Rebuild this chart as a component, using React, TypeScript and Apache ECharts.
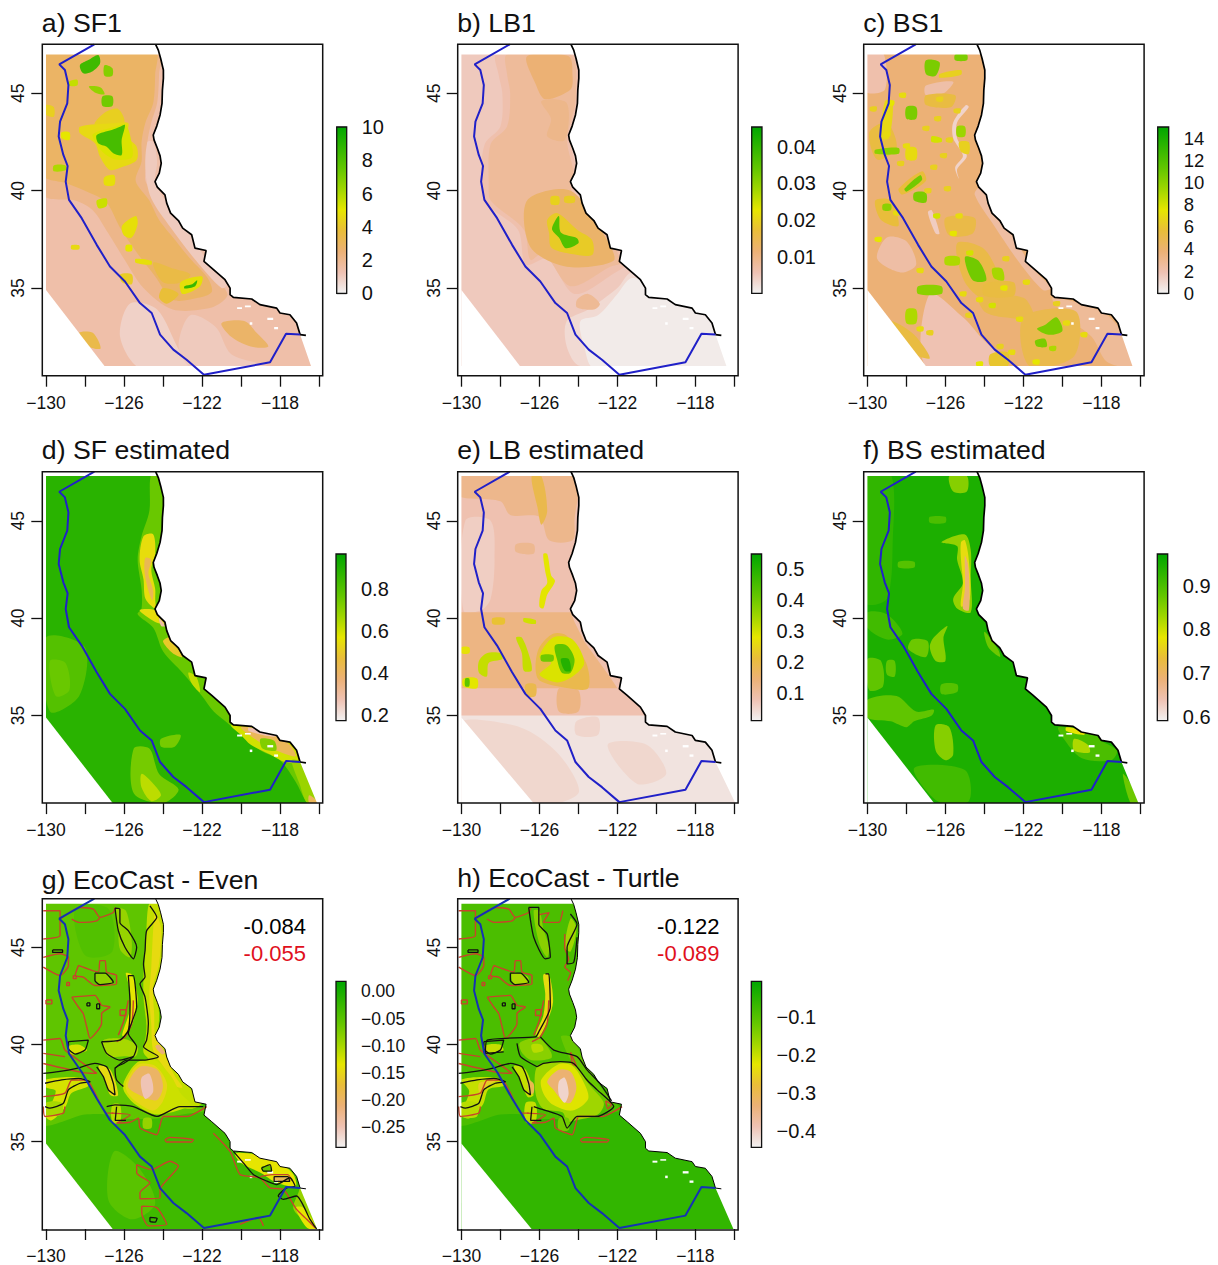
import React, { useEffect, useRef } from "react";
import * as echarts from "echarts";

type Region = [number, number[], boolean?];

const FONT = "Liberation Sans";
const INK = "#111111";
const XMIN = -130.19, XMAX = -115.81, YMIN = 30.5, YMAX = 47.52;
const xTicks = [-130, -128, -126, -124, -122, -120, -118, -116];
const xLabels = [-130, -126, -122, -118];
const yTicks = [35, 40, 45];

const coast = [-124.38,47.52,-124.24,47.22,-124.12,46.79,-123.98,46.2,-123.98,45.77,-124.03,45.17,-124.05,44.49,-124.15,43.89,-124.32,43.32,-124.5,42.86,-124.46,42.61,-124.29,42.18,-124.15,41.79,-124.09,41.41,-124.19,40.9,-124.41,40.47,-124.29,40.18,-123.9,39.79,-123.81,39.36,-123.61,38.85,-123.21,38.47,-122.99,38.08,-122.53,37.74,-122.36,37.05,-121.79,36.93,-121.9,36.37,-121.5,36.03,-120.82,35.43,-120.56,35,-120.56,34.66,-120.39,34.52,-119.45,34.44,-119.03,34.15,-118.17,33.97,-118,33.72,-117.49,33.63,-117.15,33.21,-116.97,32.61];
const coastTail = [-116.97,32.61,-116.67,32.57];
const eez = [-127.52,47.52,-129.32,46.49,-129.03,46.2,-128.85,45.43,-128.91,44.49,-129.28,43.55,-129.35,42.78,-129.11,41.84,-128.89,41.27,-128.99,40.47,-128.82,39.53,-128.17,38.59,-127.4,37.22,-126.72,36.11,-125.95,35.34,-125.18,34.23,-124.58,33.72,-124.15,32.61,-123.47,31.84,-122.79,31.32,-121.9,30.55,-118.51,31.19,-117.69,32.66,-116.97,32.61];
const holes = [-120.2,34.02,-119.95,34.02,-119.95,33.92,-120.2,33.92, -119.8,34.1,-119.5,34.1,-119.5,34.02,-119.8,34.02, -118.65,33.48,-118.35,33.48,-118.35,33.36,-118.65,33.36, -119.55,33.25,-119.42,33.25,-119.42,33.12,-119.55,33.12, -118.3,33,-118.1,33,-118.1,32.88,-118.3,32.88];

const regionsA: Region[] = [
  [1.45, [-131,29,-115,29,-115,48,-131,48], true],
  [0.85, [-125.7,34.2,-124.3,33.9,-123.1,31.7,-122.3,30.9,-125.2,30.9,-126.2,32.5]],
  [1.05, [-122.6,33.6,-121.3,33,-120.5,31.6,-118.7,31,-122.5,30.9,-123.2,32]],
  [2.1, [-130.1,47.1,-124.2,47.1,-124.2,46,-124.3,44.5,-124.6,43.5,-124.8,42.5,-124.8,41.5,-124.9,40.5,-124.2,39.5,-123.7,38.5,-122.9,37.5,-122.2,36.5,-121,35.2,-120.7,34.6,-121.5,34,-123.5,33.9,-125,35,-126,36.5,-126.8,37.8,-127.6,39,-128.5,39.5,-130.1,39.8]],
  [2.85, [-130.1,47.1,-124.4,47.1,-124.4,46,-124.5,44.5,-124.9,43.5,-125.1,42.5,-125.1,41.5,-125.4,40.5,-124.7,39.5,-124.2,38.5,-123.4,37.5,-122.6,36.5,-121.7,35.5,-121.5,34.8,-122.2,34.5,-123.5,34.4,-124.4,35.6,-125.4,36.9,-126.2,38.1,-126.9,39.4,-128,40,-129,40.4,-130.1,40.8]],
  [2.8, [-121,33.2,-119.8,33.3,-119.2,32.7,-118.6,32,-119.5,32,-120.5,32.5]],
  [3.4, [-128.3,32.7,-127.6,32.7,-127.2,31.9,-127.8,32]],
  [3.5, [-124.5,36.3,-123.5,36,-122.6,35.7,-123,35.3,-124,35.3]],
  [3.8, [-124,35,-123.2,34.7,-123.8,34.2,-124.2,34.5]],
  [4.3, [-127,44,-126.3,44.2,-126,43.5,-127.5,43.4]],
  [4.6, [-128.26,43.29,-126.55,43.46,-125.78,43.46,-125.86,42.78,-125.35,42.26,-125.35,41.58,-126.03,41.24,-126.72,41.07,-127.23,41.75,-127.49,42.44,-128.26,42.95]],
  [5.2, [-127.6,42.9,-126.4,43.3,-125.9,43.4,-125.6,42.4,-125.6,41.7,-126.4,41.6,-127,41.9,-127.4,42.4]],
  [8.2, [-127.4,42.86,-126.63,43.12,-126.2,43.29,-125.95,43.38,-126.12,42.61,-126.12,41.84,-126.55,41.93,-126.89,42.26,-127.32,42.44]],
  [8.4, [-128.26,46.45,-127.83,46.71,-127.32,46.97,-127.23,46.54,-127.66,46.11,-128.09,46.03]],
  [6.8, [-127,46.45,-126.6,46.3,-126.6,45.9,-127,45.9]],
  [5.6, [-128.85,45.6,-128.4,45.7,-128.4,45.4,-128.85,45.4]],
  [6.5, [-127.8,45.35,-127.2,45.3,-127,44.95,-127.5,45.05]],
  [7.2, [-127.1,44.85,-126.6,44.85,-126.6,44.35,-127.1,44.35]],
  [4.3, [-130,44.4,-129.6,44.3,-129.6,43.8,-130,43.9]],
  [5, [-129.2,43,-128.8,43,-128.8,42.6,-129.2,42.7]],
  [6, [-129.6,41.3,-129,41.3,-129,41.05,-129.6,41]],
  [5.5, [-127.4,39.5,-126.9,39.6,-126.9,39.2,-127.3,39.1]],
  [4.8, [-126.1,38.2,-125.4,38.7,-125.3,38.3,-125.6,37.6,-126,37.7]],
  [5, [-125.9,37.2,-125.6,37.2,-125.6,36.9,-125.9,36.9]],
  [4.6, [-128.7,37.2,-128.3,37.2,-128.3,37,-128.7,37]],
  [4.8, [-125.4,36.5,-124.6,36.4,-124.6,36.2,-125.4,36.3]],
  [4.2, [-126.2,35.7,-125.6,35.7,-125.6,35.2,-126.1,35.3]],
  [4.8, [-127,40.7,-126.5,40.8,-126.5,40.3,-127,40.3]],
  [4.8, [-123.1,35.3,-122,35.6,-122.1,35.1,-123,34.7]],
  [8.6, [-122.9,35.1,-122.5,35.2,-122.25,35.4,-122.35,35.1,-122.9,34.98]],
  [1.05, [-124.5,42.5,-124.3,41.5,-124.4,40.4,-123.5,39,-122.3,37.3,-121.5,36,-120.7,35.2,-121,35,-122.3,36.4,-123.6,38.1,-124.6,39.6,-124.9,41,-124.8,42.5]],
];

const regionsB: Region[] = [
  [0.0048, [-131,29,-115,29,-115,48,-131,48], true],
  [0.0028, [-124.6,33.3,-123.5,33.9,-122,35,-121.3,35.8,-120.3,35.5,-119,35,-116.5,33,-116,31,-123.9,31,-124.6,32]],
  [0.0008, [-123.9,33.3,-123,33.6,-122,34.7,-121.3,35.5,-120.3,35.3,-119,34.8,-116.6,33,-116.2,30.9,-123.2,30.9,-123.7,32]],
  [0.0062, [-128.2,47,-124.3,47,-124,44.66,-124.4,42.6,-124.1,40.9,-124.3,40.2,-123.5,38.85,-122.2,37.47,-121.6,36.2,-122.1,35.8,-124.2,34.7,-125.6,36.5,-126.7,36.2,-127.1,38,-128.8,39.4,-129,40.5,-128.8,42.4,-128,43.3,-127.9,45,-128.1,46]],
  [0.008, [-127.66,47,-124.41,47,-124.15,44.66,-124.58,42.6,-124.24,40.9,-124.41,40.2,-123.73,38.85,-122.36,37.47,-121.85,36.3,-122.36,36.1,-124.41,35.1,-125.78,36.8,-126.46,36.45,-126.8,38,-128.5,39.5,-128.6,40.4,-128.5,42.4,-127.66,43.3,-127.5,45,-127.66,46]],
  [0.0115, [-126.63,46.9,-124.5,46.9,-124.3,45.9,-124.4,45.2,-125.7,44.7,-126.2,45.5]],
  [0.0095, [-125.9,44.6,-124.6,44.5,-124.7,42.6,-125.6,42.8,-125.4,43.7]],
  [0.0125, [-126.63,39.5,-124.4,40,-122.53,37.47,-122.2,36.4,-124.6,36.1,-126.46,37.1]],
  [0.0085, [-124.07,34.4,-123.5,34.7,-122.9,34.2,-123.2,33.9,-124.07,34]],
  [0.019, [-125.6,38.5,-125.1,38.85,-124.07,38,-123.3,37.47,-123.3,36.7,-124.6,36.8,-125.4,37.1,-125.5,37.8]],
  [0.036, [-125.26,38.33,-125,38.7,-124.9,37.85,-124.07,37.56,-124,37.3,-124.65,37.05,-125,37.6,-125.35,38]],
  [0.02, [-125.4,39.7,-125,39.7,-125,39.3,-125.4,39.3]],
  [0.019, [-124.7,39.7,-124.2,39.7,-124.2,39.4,-124.7,39.4]],
];

const spotsC = [
  [-128.2,44.9,7],[-128.8,44.5,7.5],[-129,42.9,7],[-128.3,41.4,6.5],[-128,42.3,7],[-126.3,44.7,6.5],[-125.4,44.1,6.5],[-126.1,41.8,6.5],[-126.6,41.2,6.5],[-125.8,42.6,6.5],
  [-128.5,38.85,7],[-129.45,37.5,7.5],[-126.45,38.7,8],[-125.3,38.7,7],[-125.6,37.8,7.5],[-124.75,36.8,8],[-122.9,36.5,6.5],[-121.85,35.3,7],[-123,35,7.5],[-124.25,34.4,7],
  [-122.2,33.4,7],[-127.3,32.9,7],[-126.8,32.7,6.5],[-119.8,33.2,7],[-120.5,31.9,9],[-121.35,31.2,7.5],[-123.2,32,6.5],[-124.25,31.1,7.5],[-125.1,34.7,7],[-127.3,35.9,7],
  [-129.7,44.2,6.5],[-127,43.2,6.5],[-126.4,43.7,6.5],[-125.9,40.1,6.5],[-126.9,40,6.5],[-123.6,34.1,8],[-124.8,33.6,6.5],[-122.6,31.7,7],[-118.9,32.6,7],[-120.3,34.2,6.5],
];
const regionsC: Region[] = [
  [3.75, [-131,29,-115,29,-115,48,-131,48], true],
  [2.1, [-130.1,47.1,-129.2,47.1,-129.1,45.2,-130.1,45.1]],
  [2.2, [-127,45.4,-125.6,45.6,-126.1,45,-127,44.9]],
  [1.2, [-124.95,44.4,-124.8,44.3,-125.4,43.5,-125.4,42.7,-124.9,41.8,-125.4,41.1,-125.3,40.6,-125.5,41.2,-125.1,41.8,-125.6,42.7,-125.6,43.5]],
  [1.9, [-126.8,34.7,-125.1,33.5,-124.2,32.5,-122.9,31,-127,31]],
  [2.3, [-129,37.6,-128,37.4,-127.5,36.2,-128.3,35.8,-129.5,36.5]],
  [1.5, [-126.7,39,-126.3,37.8,-126.5,37.8,-126.9,38.9]],
  [2.7, [-120.5,34.5,-118,33.8,-117,32.8,-116.4,31,-117.7,31.2,-118.5,32.5,-119.8,33.5]],
  [2.4, [-124.2,40.2,-123.5,39,-122.5,37.6,-121.5,36,-120.6,35,-121,34.9,-122.2,36.3,-123.5,38.2,-124.5,39.8]],
  [5.4, [-129.9,43,-129,43.5,-128.5,42.2,-129.5,41.6]],
  [5.6, [-128.4,40.1,-127.2,41,-127,40.5,-128.2,39.8]],
  [10.8, [-128.1,40.1,-127.3,40.8,-127.2,40.55,-128,39.95]],
  [5.6, [-129.6,39.5,-128.8,39.5,-128.4,38.2,-129.3,38.5]],
  [10, [-129.2,39.3,-128.8,39.3,-128.8,39,-129.2,39]],
  [10.5, [-127.6,39.9,-127,39.9,-127,39.4,-127.6,39.5]],
  [10.5, [-127,46.7,-126.3,46.6,-126.5,45.9,-127,46]],
  [6.5, [-126.3,46,-125.2,46.2,-125.2,45.95,-126.3,45.8]],
  [10.5, [-125.5,47,-124.9,47,-124.9,46.7,-125.5,46.7]],
  [10.5, [-128,44.3,-127.5,44.3,-127.5,43.7,-128,43.7]],
  [6.8, [-129.1,44.6,-128.7,44.6,-128.9,42.7,-129.3,42.7]],
  [10, [-129.6,42.1,-128.4,42.2,-128.4,41.9,-129.6,41.9]],
  [9.5, [-125.4,43.3,-125,43.3,-125,42.8,-125.4,42.8]],
  [6.5, [-125.3,42.5,-124.8,42.5,-124.8,41.9,-125.2,42]],
  [5.2, [-125.4,37.3,-124,37,-123.2,35.2,-123.8,34.3,-125,35.3]],
  [10.8, [-125,36.6,-124.3,36.4,-123.9,35.4,-124.6,35.4]],
  [9.2, [-123.6,36,-123.1,36,-123,35.4,-123.5,35.5]],
  [10, [-127.4,35.1,-126.2,35.1,-126.2,34.7,-127.4,34.7]],
  [9, [-126,36.6,-125.3,36.6,-125.3,36.2,-126,36.2]],
  [9, [-128,33.9,-127.5,33.9,-127.5,33.2,-128,33.2]],
  [5.4, [-128.7,33.3,-127.6,32.6,-126.8,31.4,-127.8,31.7,-128.8,33]],
  [5, [-124.3,34.6,-122,34.5,-121.5,33.5,-123,33.5,-124,33.8]],
  [5, [-122,33.5,-119.3,33.8,-119.4,31.5,-121.7,31]],
  [10.5, [-121.3,32.9,-120.9,33.1,-120.3,33.5,-120,32.8,-120.7,32.6]],
  [10.5, [-121.4,32.3,-120.9,32.4,-120.8,32,-121.3,32]],
  [6, [-123.7,31.6,-122.8,31.7,-122.8,31,-123.7,31]],
  [5.2, [-126,38.6,-124.5,38.6,-124.6,37.8,-125.8,37.7]],
  [5.4, [-124,35.2,-122.5,35.3,-122.5,34.6,-124,34.6]],
  [5.4, [-127,44.9,-125.5,44.9,-125.7,44.3,-127,44.4]],
  [8, [-126.7,42.8,-126.2,42.7,-126.2,42.5,-126.7,42.5]],
  [7, [-128,42.2,-127.5,42.2,-127.5,41.6,-128,41.6]],
  ...spotsC.map(([lon, lat, v]): Region => [v, [lon - 0.17, lat + 0.1, lon + 0.17, lat + 0.12, lon + 0.15, lat - 0.12, lon - 0.15, lat - 0.1]]),
];

const regionsD: Region[] = [
  [0.885, [-131,29,-115,29,-115,48,-131,48], true],
  [0.8, [-130,39,-128,38.5,-128.3,36,-129.8,35.2]],
  [0.76, [-129.8,37.8,-129,37.7,-128.8,36.3,-129.5,36]],
  [0.74, [-125.5,33.3,-124.7,33.3,-124.2,32,-123.2,31.2,-124,30.5,-125.5,31]],
  [0.63, [-125.1,32,-124.5,31.5,-124.1,30.9,-124.6,30.6,-125.1,31.3]],
  [0.74, [-124.1,33.8,-123.1,34,-123.4,33.4,-124.1,33.4]],
  [0.76, [-124.6,47.4,-124.7,45.5,-125.1,44.2,-125.3,43,-125.1,41.5,-125.1,40.5,-125.3,40.2,-124.5,39.5,-124,38.3,-123,37.2,-122,36,-121.4,35.2,-120.8,34.7,-120,34,-119,33.2,-118,32.7,-117.2,31.6,-116.5,30.4,-115.8,30.4,-116.5,33,-118,34.2,-120,35,-121,36.5,-122.5,38.5,-123.7,40.6,-124,47.4]],
  [0.55, [-125,44.2,-124.5,44.3,-124.4,43.3,-124.6,42.5,-124.4,41.5,-124.4,41,-124.4,40.5,-124.9,41,-125,42,-125.2,43]],
  [0.43, [-124.9,43.1,-124.6,43,-124.75,42.3,-124.5,41.4,-124.55,40.9,-124.8,41.6,-124.95,42.4]],
  [0.55, [-125.2,40.4,-124.4,40.4,-123.9,39.7,-124.4,39.8]],
  [0.3, [-124.2,40,-123.9,39.6,-124.1,39.6]],
  [0.5, [-123.7,39,-123.3,38.5,-123,38,-123.5,38.2,-124,38.8]],
  [0.62, [-122.7,37.2,-122.3,37,-122.1,36.2,-122.5,36.6]],
  [0.6, [-120.5,34.5,-119,34.4,-117.6,33.7,-117,33,-116.9,32.6,-117.7,32.6,-118.5,33,-119.5,33.5,-120,34]],
  [0.42, [-120,34.4,-118.5,34.1,-117.5,33.5,-117.2,32.9,-118.2,33.2,-119,33.6]],
  [0.72, [-119,33.8,-118.3,33.7,-118.2,33.2,-118.9,33.3]],
  [0.28, [-119.6,34.4,-118.3,34.1,-118.3,33.9,-119.6,34.2]],
  [0.68, [-117.4,32.7,-116.9,32.6,-116,30.5,-116.6,30.5,-117,31.5]],
  [0.42, [-116.5,30.9,-116,30.5,-116.5,30.5]],
];

const regionsE: Region[] = [
  [0.03, [-131,29,-115,29,-115,48,-131,48], true],
  [0.05, [-124.1,34.7,-123,34.9,-123,34,-124.1,34]],
  [0.048, [-130,34.6,-127,34.4,-125,33,-124,31,-126.5,30.5]],
  [0.048, [-122.5,33.5,-120.5,33.5,-119.5,32,-121,31.5]],
  [0.08, [-130.3,47.6,-120,47.6,-120,35,-130.3,35], true],
  [0.12, [-130.2,47.4,-124.2,47.4,-124.2,45,-124.3,44,-125.5,44,-126,45.2,-127.5,45.3,-128,46,-130.2,46.3]],
  [0.06, [-129.8,45,-128.5,45,-128.3,43,-128.5,41,-129,40.4,-129.9,40.4]],
  [0.13, [-130.3,40.3,-124.4,40.3,-124.2,39.8,-123.7,38.8,-122.4,37,-122,36.4,-130.3,36.4], true],
  [0.115, [-127.2,43.8,-126.3,43.8,-126.3,43.3,-127.2,43.4]],
  [0.13, [-125,36.4,-124,36.3,-124,35.2,-125,35.2]],
  [0.19, [-126.4,47.3,-125.9,47.3,-125.6,45.5,-125.9,44.8,-126.1,45.7]],
  [0.28, [-125.8,43.3,-125.6,43.3,-125.4,42.2,-125.2,41.9,-125.6,41.2,-125.8,40.5,-126,40.6,-125.9,41.4,-125.6,41.8,-125.7,42.4]],
  [0.3, [-126.8,40,-126.2,39.9,-126.2,39.7,-126.8,39.8]],
  [0.22, [-128.4,40,-127.8,40,-127.8,39.7,-128.4,39.7]],
  [0.31, [-127.2,39,-126.9,39,-126.5,38,-126.4,37.3,-126.8,37.3,-126.9,38.2]],
  [0.31, [-129.1,37.8,-128.7,38.2,-128,38.2,-127.9,37.9,-128.6,37.7,-128.7,37,-129.1,37.2]],
  [0.27, [-130,38.5,-129.6,38.5,-129.6,38.2,-130,38.2]],
  [0.28, [-129.9,36.9,-129.2,36.9,-129.2,36.4,-129.9,36.5]],
  [0.42, [-129.8,36.9,-129.6,36.9,-129.6,36.5,-129.8,36.5]],
  [0.19, [-126.7,36.6,-126.2,36.6,-126.2,36,-126.7,36]],
  [0.19, [-126,38.5,-125.3,39.2,-124.6,39.1,-123.6,37.7,-123.5,36.4,-124.5,36.4,-126,36.8,-126.2,37.5]],
  [0.29, [-126,38,-125.3,39,-124.3,38.9,-123.7,37.7,-124.3,37,-125.1,36.7,-126,37.1,-125.4,37.7]],
  [0.42, [-125.2,38.6,-124.6,38.6,-124.2,37.9,-124.4,37.2,-124.85,37.2,-125.1,37.9]],
  [0.5, [-124.9,37.9,-124.5,37.9,-124.4,37.3,-124.7,37.3]],
  [0.4, [-125.9,38.1,-125.3,38.1,-125.3,37.8,-125.9,37.8]],
];

const regionsF: Region[] = [
  [0.945, [-131,29,-115,29,-115,48,-131,48], true],
  [0.925, [-130.1,47.4,-128.8,47.4,-128.7,44,-129,41,-130.1,40.8]],
  [0.91, [-130,40.3,-129,40.2,-128.2,39.2,-129,38.9,-130,39.5]],
  [0.85, [-125.8,47.3,-124.9,47.3,-124.9,46.5,-125.6,46.5]],
  [0.84, [-126.2,43.9,-125,44.3,-124.7,43.5,-124.7,42,-124.7,40.3,-125.4,40.5,-125.6,41,-125.1,41.8,-125.4,43,-125.4,43.7]],
  [0.77, [-125.2,43.9,-125,44,-124.8,43,-124.75,41,-125.2,40.6,-125.1,41.8,-125.2,43]],
  [0.69, [-125,43.2,-124.85,42.8,-124.78,42,-124.8,40.4,-125.1,40.5,-125,41.5,-125,42.5]],
  [0.87, [-127.7,38.9,-126.9,38.8,-127,38,-127.9,38.4]],
  [0.85, [-126.6,39,-125.9,39.6,-126.1,39,-126,37.8,-126.5,37.8,-126.8,38.5]],
  [0.88, [-130,37.9,-129.3,37.8,-129.2,36.5,-129.9,36.3]],
  [0.88, [-129,37.8,-128.6,37.8,-128.6,37,-129,37.1]],
  [0.88, [-130,35.8,-128.5,36,-127.5,35.2,-126.6,35.3,-126.7,35,-127.6,34.7,-128,34.4,-128.8,34.7,-130,34.9]],
  [0.85, [-126.5,34.5,-125.8,34.4,-125.6,33,-126,32.7,-126.5,33.2]],
  [0.91, [-127.6,32.3,-125,32.2,-124.8,30.6,-126.4,30.6]],
  [0.89, [-126.2,36.6,-125.4,36.6,-125.4,36.2,-126.2,36.1]],
  [0.89, [-128.4,42.9,-127.6,42.9,-127.6,42.6,-128.4,42.6]],
  [0.9, [-126.8,45.2,-126,45.2,-126,44.9,-126.8,44.9]],
  [0.87, [-124,39.3,-123.3,38.4,-123.2,38,-123.8,38.5]],
  [0.9, [-120.2,34.4,-118.5,34.2,-118,33.7,-117.2,33.2,-117.5,32.7,-119,32.8,-120,33.9]],
  [0.78, [-119.8,34.4,-118.8,34.2,-118.9,34,-119.8,34.2]],
  [0.82, [-119.4,33.8,-118.7,33.5,-118.6,33.1,-119.4,33.2]],
  [0.87, [-116.9,32,-116.5,31.5,-116.1,30.5,-116.5,30.5]],
];

const regionsG: Region[] = [
  [-0.03, [-131,29,-115,29,-115,48,-131,48], true],
  [-0.055, [-130.3,47.6,-124,47.6,-123.9,45,-124,43,-124,41,-123.5,39,-122,36.9,-121.8,36.6,-123,36.4,-124.3,36.2,-126.5,36.2,-126.9,36.4,-128,36.4,-130.3,36]],
  [-0.045, [-128.5,47,-126.8,47,-126.6,44.8,-128,44.6]],
  [-0.05, [-126.5,34.5,-125.2,33.6,-124.4,31.8,-125.6,31,-126.8,32]],
  [-0.115, [-124.7,47.3,-124.3,47.3,-123.9,46,-123.9,45,-124,44,-124.3,43,-124.2,41.6,-124.2,40.4,-123.8,39.8,-123.4,38.8,-122.8,38,-122.3,37.4,-122,37,-122.5,36.7,-123.5,36.9,-124.2,37.9,-124.5,39,-125,39.6,-124.9,40.3,-124.85,41,-125,42.4,-125,43.5,-124.95,44.2,-124.9,45,-124.85,46]],
  [-0.145, [-124.4,46.8,-124.1,46,-124.2,44.2,-124.5,43,-124.45,41.5,-124.4,40.5,-124,39.7,-123.4,38.4,-123,37.8,-123.4,37.9,-124,38.9,-124.5,39.7,-124.6,41,-124.7,42.5,-124.6,44,-124.5,46]],
  [-0.21, [-124.2,40,-123.9,39.6,-124.05,39.5,-124.4,39.9]],
  [-0.12, [-126,38.1,-125.3,39.1,-124.4,39.2,-123.6,38.4,-123.1,37.5,-122.6,36.9,-124.3,36.4,-125.4,36.9,-126,37.6]],
  [-0.15, [-125.9,38,-125.3,38.95,-124.4,38.9,-123.8,38,-124,37.1,-124.5,36.6,-125.3,37,-125.8,37.5]],
  [-0.2, [-125.8,37.85,-125.2,38.85,-124.3,38.7,-124,37.85,-124.3,37.15,-125,37.3]],
  [-0.25, [-125.1,38.3,-124.7,38.5,-124.5,37.6,-124.9,37.2,-125.1,37.7]],
  [-0.09, [-126.4,47,-125.9,46.9,-125.6,45.3,-125.7,44.5,-126.2,44.9,-126.3,46]],
  [-0.135, [-125.9,43.7,-125.6,43.6,-125.3,42.3,-125.6,41,-126,40.4,-126.1,40.5,-125.7,41.8,-125.7,42.8,-125.9,43.6]],
  [-0.1, [-127.1,40.2,-126,40.3,-125.3,39.9,-125.4,39.4,-126,39.4,-126.8,39.4]],
  [-0.125, [-128.9,39.9,-128.3,40,-127.9,39.7,-128.8,39.5]],
  [-0.145, [-127.3,38.9,-126.7,38.7,-126.3,37.4,-126.7,37.4,-127,38.2]],
  [-0.125, [-130,38.2,-128.2,38.3,-127.8,37.9,-128.7,37.5,-129,36.8,-129.7,36.1,-130,36.3,-129.5,37.6,-130,37.8]],
  [-0.1, [-130,37,-129.2,37,-129.2,36.4,-130,36.4]],
  [-0.11, [-126.6,36.9,-126.2,36.9,-126.2,36,-126.6,36]],
  [-0.085, [-127.5,43.6,-126.8,43.6,-126.6,43.1,-127.3,43.1]],
  [-0.09, [-125,36.2,-124.6,36.2,-124.6,35.7,-125,35.7]],
  [-0.09, [-120.5,34.5,-119,34.4,-118,33.9,-117.2,33.3,-117,32.6,-117.3,31.5,-116.1,30.5,-115.9,30.5,-116.7,33,-118,34.2]],
  [-0.135, [-120.3,34.4,-119,34.3,-118,33.9,-117.3,33.3,-117.2,32.7,-118.2,32.9,-119,33.4,-120,33.9]],
  [-0.19, [-118.3,33.2,-117.6,33.2,-117.5,32.95,-118.3,32.95]],
  [-0.06, [-118.95,33.7,-118.5,33.75,-118.45,33.45,-118.85,33.45]],
  [-0.135, [-117.2,31.6,-116.8,31.6,-116.15,30.55,-116.6,30.55]],
];

const regionsH: Region[] = [
  [-0.062, [-131,29,-115,29,-115,48,-131,48], true],
  [-0.09, [-130.3,47.6,-124,47.6,-123.9,45,-124,43,-124,41,-123.5,39,-122,36.9,-121.8,36.6,-123,36.4,-124.3,36.2,-126.5,36.2,-126.9,36.4,-128,36.4,-130.3,36]],
  [-0.17, [-124.4,46.5,-124.1,46,-124.4,44.8,-124.7,45]],
  [-0.12, [-124.9,40.4,-124.4,40.4,-123.7,39.2,-123,38,-122.2,36.9,-122.7,37,-124,38.5]],
  [-0.17, [-126.1,38.9,-125,39.1,-124.2,39,-123.5,38,-122.7,37,-123,36.4,-124.5,36,-124.6,35.8,-124.8,36.5,-125.8,36.7,-126.2,37.5]],
  [-0.22, [-125.9,38.2,-125,39,-124.3,38.9,-123.7,38,-123.5,37.2,-124.3,36.6,-125.3,36.9,-125.8,37.5]],
  [-0.33, [-125.6,38.1,-125,38.7,-124.4,38.6,-124.1,37.8,-124.4,37,-124.8,37.1,-125.3,37.7]],
  [-0.41, [-125,38.1,-124.7,38.3,-124.5,37.5,-124.7,37,-125,37.4]],
  [-0.24, [-125.8,43.6,-125.5,43.6,-125.3,42.2,-125.6,41.2,-126,40.4,-126.2,40.5,-125.8,41.5,-125.7,42.6]],
  [-0.15, [-127,40.1,-126,40.3,-125.4,39.6,-125.4,39.3,-126.4,39.2,-126.9,39.6]],
  [-0.19, [-126.4,40,-125.9,40,-125.8,39.7,-126.3,39.6]],
  [-0.15, [-126.3,46.9,-126,46.9,-125.8,46,-125.5,45,-125.6,44.5,-126,45.2]],
  [-0.2, [-128.8,39.95,-128,40,-127.85,39.7,-128.7,39.55]],
  [-0.2, [-127.3,38.9,-126.7,38.7,-126.3,37.4,-126.6,37.3,-127,38.2]],
  [-0.3, [-126.6,38.2,-126.3,38,-126.3,37.5,-126.5,37.5]],
  [-0.2, [-130,38.2,-128.2,38.3,-127.8,37.9,-128.6,37.7,-128.9,36.9,-129.6,36.2,-130,36.4,-129.6,37.6]],
  [-0.26, [-129.1,38,-128.2,38.15,-128.7,37.85,-129,37.3]],
  [-0.19, [-130,37,-129.2,37,-129.2,36.3,-130,36.3]],
  [-0.2, [-126.7,37,-126.2,37,-126.2,36,-126.7,36]],
  [-0.18, [-127.4,43.7,-126.6,43.5,-126.6,43.1,-127.3,43.1]],
  [-0.13, [-125,36.2,-124.5,36.2,-124.5,35.6,-125,35.6]],
];

const redShared = [
  [-130.14,46.9,-129.28,46.9,-129.28,45.62,-130.14,45.44],
  [-129.28,46.47,-128.26,47.07,-127.57,46.98,-127.23,46.56,-126.55,46.81,-126.46,47.07],
  [-128.68,46.47,-128.3,46.3,-127.4,46.38,-127.23,46.56],
  [-130.14,43.99,-129.28,43.56,-128.85,44.08,-128.85,44.5,-129.28,44.68,-130.14,44.5],
  [-128.34,44.08,-127.32,43.74,-127.23,44.33,-126.97,44.33,-126.89,43.74,-126.38,43.56,-126.38,43.14,-127.49,43.05,-128.09,43.48,-128.51,43.56,-128.34,44.08],
  [-128.68,42.45,-127.49,42.54,-127.15,42.03,-126.72,41.94,-127.15,41.6,-127.15,41.09,-127.74,40.32,-127.91,40.91,-128.09,41.6,-128.34,41.94,-128.68,42.45],
  [-125.52,42.28,-125.6,41.09,-125.95,40.4,-126.38,40.15],
  [-125.78,42.28,-126,41.26,-126.29,40.49],
  [-130.14,40.23,-129.28,40.32,-129.03,39.72,-128.09,39.03,-127.4,38.52,-128.09,38.56,-130.14,39.03],
  [-130.14,39.55,-129.03,39.38],
  [-130.14,37.32,-129.03,37.5,-128.68,38.18,-127.91,38.18,-127.57,37.67,-126.89,36.47,-126.55,36.47],
  [-130.14,36.81,-130.05,36.3,-129.11,36.47,-129.03,36.81],
  [-126.63,36.47,-125.69,36.38,-126.38,35.96,-125.69,36,-125.26,36.21,-125.18,35.7,-124.32,35.36,-123.98,36.3,-122.79,36.3,-121.76,36.81],
  [-123.9,35.1,-123.64,35.22,-122.44,35.1,-122.53,34.98,-123.81,34.98,-123.9,35.1],
  [-130,42.3,-129.7,42.3,-129.7,42.1,-130,42.1,-130,42.3],
  [-126.2,41.8,-125.9,41.8,-125.9,41.5,-126.2,41.5,-126.2,41.8],
  [-128.94,43.2,-128.8,43.2,-128.8,43.05,-128.94,43.05,-128.94,43.2],
  [-128.6,43.55,-128.45,43.55,-128.45,43.4,-128.6,43.4,-128.6,43.55],
];
const redEvenOnly = [
  [-125.35,33.82,-124.58,33.56,-123.64,33.99,-123.21,33.74,-124.15,32.54,-124.15,32.11,-125.18,32.06,-125.18,32.37,-124.67,32.88,-125.35,33.39,-125.35,33.82],
  [-125.09,31.68,-124.32,31.6,-123.81,30.74,-124.75,30.66,-125.09,31.34,-125.09,31.68],
  [-121.42,35.44,-120.56,34.5,-120.05,33.31,-119.03,33.14,-118.51,32.62,-117.83,32.54,-117.15,31.51,-116.63,31,-116.2,30.57],
  [-120.05,30.74,-119.11,31.09,-118.85,30.66],
  [-119,33.2,-118.4,33.3,-117.6,33.3,-117.4,33],
];
const redTurtleOnly = [
  [-124.7,45.7,-124.7,45,-124.5,44.4,-124.7,44,-124.4,43.7,-124.55,43.3],
  [-126,46.7,-125.5,46.8,-125.8,46.3,-125,46.3,-124.8,46.9],
  [-124.4,39.6,-124.1,38.9,-124.3,39,-124.4,39.6],
  [-122.6,37.1,-122.3,36.9,-122.5,36.7,-122.6,37.1],
];
const blackShared = [
  [-130.14,38.52,-129.37,38.61,-128.43,38.78,-127.49,39.03,-126.89,38.86,-126.55,38.01,-126.46,37.41,-126.8,37.67,-127.06,38.35,-127.4,38.86],
  [-130.05,38.01,-129.2,38.18,-128.34,38.26,-127.74,38.09,-128.26,38.01,-128.85,37.67,-129.11,36.98,-129.8,36.73,-130.05,36.81],
  [-128.85,40.15,-127.83,40.23,-128,39.72,-128.51,39.51,-128.85,39.8,-128.85,40.15],
  [-127.49,43.68,-126.97,43.68,-126.55,43.22,-127.23,43.09,-127.49,43.31,-127.49,43.68],
  [-129.66,44.88,-129.15,44.88,-129.15,44.75,-129.66,44.75,-129.66,44.88],
  [-126.38,36.8,-126.45,36.1,-125.9,36.1],
  [-127.9,42.15,-127.75,42.15,-127.75,42,-127.9,42,-127.9,42.15],
  [-127.4,42.1,-127.25,42.1,-127.25,41.85,-127.4,41.85,-127.4,42.1],
];
const blackEvenOnly = [
  [-126.46,47.03,-126.21,46.98,-126.21,46.3,-125.78,45.87,-125.35,45.02,-125.52,44.42,-125.95,45.02,-126.29,45.87,-126.46,47.03],
  [-124.67,47.15,-124.32,46.56,-124.84,45.87,-124.92,44.85,-125,44.16,-124.92,43.48,-125.18,43.14,-124.92,42.45,-124.75,41.09,-124.84,40.23,-125,39.89,-124.24,39.38,-125,39.2,-125.86,39.2,-126.46,38.78],
  [-127.15,40.15,-126.21,40.23,-125.78,40.74,-125.69,42.11,-125.78,43.56,-125.52,43.56,-125.35,41.94,-125.78,40.57,-125.35,39.89,-125.52,39.38,-126.03,39.03,-126.46,38.78,-126.38,38.18,-126.03,37.84],
  [-127.15,40.15,-126.89,39.55,-126.21,39.2,-125.52,39.38],
  [-126.89,36.81,-126.46,36.9,-125.52,36.81,-124.32,36.3,-123.13,36.81,-121.93,36.81],
  [-120.39,34.5,-119.88,33.91,-119.37,33.31,-118.68,32.97,-118.17,32.79,-117.49,33.14,-117.23,32.71,-117.66,32.62,-118.09,32.2,-117.83,32.03,-117.15,32.2,-116.46,31,-116.12,30.5],
  [-118.94,33.65,-118.51,33.82,-118.43,33.48,-118.85,33.48,-118.94,33.65],
  [-118.3,33.2,-117.6,33.2,-117.5,32.95,-118.3,32.95,-118.3,33.2],
  [-124.67,31.1,-124.3,31.05,-124.4,30.85,-124.67,30.9,-124.67,31.1],
];
const blackTurtleOnly = [
  [-126.12,38.86,-125.78,39.03,-124.92,39.12,-124.24,39.03,-123.56,38.18,-123.04,37.67,-122.19,36.81,-123.04,36.3,-124.07,36.3,-124.58,35.7,-124.84,36.3,-125.78,36.64,-126.29,36.81],
  [-126.55,47.07,-126.03,47.07,-126.03,46.2,-125.6,45.7,-125.44,44.5,-125.7,44.42,-126.29,45.53,-126.55,47.07],
  [-124.41,46.73,-124.07,46.21,-124.58,45.02,-124.58,44.16,-124.24,44.24,-124.07,45.53],
  [-125.69,43.65,-125.52,43.65,-125.44,41.94,-126.03,40.66,-126.2,40.4,-128.68,40.23,-128.77,39.55,-127.83,39.63],
  [-127.15,40.06,-126.97,39.38,-126.12,38.86],
  [-125.95,40.4,-125.26,39.72,-124.07,39.38,-123.56,38.7,-122.9,38,-122.3,37.1],
];

const cbA = { min: 0, max: 10, ticks: [0, 2, 4, 6, 8, 10], dec: 0, fs: 20 };
const cbB = { min: 0, max: 0.0454, ticks: [0.01, 0.02, 0.03, 0.04], dec: 2, fs: 20 };
const cbC = { min: 0, max: 15, ticks: [0, 2, 4, 6, 8, 10, 12, 14], dec: 0, fs: 18.5 };
const cbD = { min: 0.174, max: 0.968, ticks: [0.2, 0.4, 0.6, 0.8], dec: 1, fs: 20 };
const cbE = { min: 0.0097, max: 0.547, ticks: [0.1, 0.2, 0.3, 0.4, 0.5], dec: 1, fs: 20 };
const cbF = { min: 0.592, max: 0.972, ticks: [0.6, 0.7, 0.8, 0.9], dec: 1, fs: 20 };
const cbG = { min: -0.2868, max: 0.0184, ticks: [-0.25, -0.2, -0.15, -0.1, -0.05, 0], dec: 2, fs: 17.5 };
const cbH = { min: -0.4437, max: -0.0073, ticks: [-0.4, -0.3, -0.2, -0.1], dec: 1, fs: 20 };

const PANELS = [
  { title: "a) SF1", regions: regionsA, cb: cbA, left: 42.3, top: 44.3, cbLeft: 336.7, cbW: 10, cbTop: 127, titleTop: 9, top_: 47, bot: 31, sw: -127, se: -116.41, reds: [], blacks: [], thin: false },
  { title: "b) LB1", regions: regionsB, cb: cbB, left: 457.7, top: 44.3, cbLeft: 751.7, cbW: 10.3, cbTop: 127, titleTop: 9, top_: 47, bot: 31, sw: -127, se: -116.41, reds: [], blacks: [], thin: false },
  { title: "c) BS1", regions: regionsC, cb: cbC, left: 863.7, top: 44.3, cbLeft: 1157.7, cbW: 11, cbTop: 127, titleTop: 9, top_: 47, bot: 31, sw: -127, se: -116.41, reds: [], blacks: [], thin: false },
  { title: "d) SF estimated", regions: regionsD, cb: cbD, left: 42.3, top: 471.7, cbLeft: 336, cbW: 10, cbTop: 554, titleTop: 436, top_: 47.3, bot: 30.5, sw: -126.58, se: -116.1, reds: [], blacks: [], thin: false },
  { title: "e) LB estimated", regions: regionsE, cb: cbE, left: 457.7, top: 471.7, cbLeft: 751.3, cbW: 10.3, cbTop: 554, titleTop: 436, top_: 47.3, bot: 30.5, sw: -126.3, se: -115.95, reds: [], blacks: [], thin: false },
  { title: "f) BS estimated", regions: regionsF, cb: cbF, left: 863.7, top: 471.7, cbLeft: 1157.3, cbW: 10.4, cbTop: 554, titleTop: 436, top_: 47.3, bot: 30.5, sw: -126.58, se: -116.1, reds: [], blacks: [], thin: false },
  { title: "g) EcoCast - Even", regions: regionsG, cb: cbG, left: 42.3, top: 898.7, cbLeft: 336, cbW: 10, cbTop: 981.3, titleTop: 866, top_: 47.26, bot: 30.5, sw: -126.58, se: -116.1, reds: [...redShared, ...redEvenOnly], blacks: [...blackShared, ...blackEvenOnly], thin: true },
  { title: "h) EcoCast - Turtle", regions: regionsH, cb: cbH, left: 457.7, top: 898.7, cbLeft: 751.3, cbW: 10.3, cbTop: 981.3, titleTop: 864, top_: 47.26, bot: 30.5, sw: -126.4, se: -116.05, reds: [...redShared, ...redTurtleOnly], blacks: [...blackShared, ...blackTurtleOnly], thin: true },
];

const notes = [
  { black: "-0.084", red: "-0.055", right: 306, y: 926 },
  { black: "-0.122", red: "-0.089", right: 719.5, y: 926 },
];

const STOPS: [number, number[]][] = [
  [0, [242, 242, 242]], [0.125, [239, 194, 179]], [0.25, [236, 177, 118]], [0.375, [233, 189, 58]],
  [0.5, [230, 230, 0]], [0.625, [160, 214, 0]], [0.75, [99, 198, 0]], [1, [0, 166, 0]],
];
const rampCss = (t: number) => {
  const u = Math.max(0, Math.min(1, t));
  for (let i = 1; i < STOPS.length; i++) {
    if (u <= STOPS[i][0]) {
      const [a, ca] = STOPS[i - 1], [b, cb] = STOPS[i];
      const f = (u - a) / (b - a);
      return `rgb(${ca.map((c, j) => Math.round(c + (cb[j] - c) * f)).join(",")})`;
    }
  }
  return "rgb(0,166,0)";
};
const pairs = (f: number[]) => {
  const o: number[][] = [];
  for (let i = 0; i + 1 < f.length; i += 2) o.push([f[i], f[i + 1]]);
  return o;
};
const minusFmt = (dec: number) => (v: number) => Number(v).toFixed(dec).replace("-", "\u2212");

function buildOption() {
  const grid: any[] = [], xAxis: any[] = [], yAxis: any[] = [], series: any[] = [], title: any[] = [], graphic: any[] = [];
  const W = 280.4, H = 331.4;
  PANELS.forEach((p, i) => {
    const ax = i * 2, bx = i * 2 + 1;
    const colorOf = (v: number) => rampCss((v - p.cb.min) / (p.cb.max - p.cb.min));
    grid.push({ left: p.left, top: p.top, width: W, height: H, show: false });
    xAxis.push({ type: "value", gridIndex: ax, min: XMIN, max: XMAX, position: "bottom", splitLine: { show: false }, axisLine: { show: false },
      axisTick: { show: true, length: 11, lineStyle: { color: INK, width: 1.3 }, customValues: xTicks },
      axisLabel: { show: true, customValues: xLabels, margin: 18, fontSize: 17.5, fontFamily: FONT, color: INK, hideOverlap: false, formatter: minusFmt(0) } });
    yAxis.push({ type: "value", gridIndex: ax, min: YMIN, max: YMAX, position: "left", splitLine: { show: false }, axisLine: { show: false },
      axisTick: { show: true, length: 11, lineStyle: { color: INK, width: 1.3 }, customValues: yTicks },
      axisLabel: { show: true, customValues: yTicks, rotate: 90, margin: 15, fontSize: 17.5, fontFamily: FONT, color: INK, hideOverlap: false } });
    series.push({ type: "custom", xAxisIndex: ax, yAxisIndex: ax, clip: true, silent: true, data: p.regions.map((_, k) => [k]),
      renderItem: (_: any, api: any) => {
        const r = p.regions[api.value(0)];
        return { type: "polygon", shape: { points: pairs(r[1]).map((c) => api.coord(c)), smooth: r[2] ? 0 : 0.3 }, style: { fill: colorOf(r[0]) } };
      } });
    const masks: number[][] = [
      [XMIN - 1, YMIN - 1, XMAX + 1, YMIN - 1, XMAX + 1, p.bot, XMIN - 1, p.bot],
      [XMIN - 1, p.top_, XMAX + 1, p.top_, XMAX + 1, YMAX + 1, XMIN - 1, YMAX + 1],
      [XMIN - 1, YMIN - 1, -130, YMIN - 1, -130, YMAX + 1, XMIN - 1, YMAX + 1],
      [-130, 34.9, p.sw, p.bot, -130, p.bot],
      [...coast, p.se, p.bot, XMAX + 1, p.bot, XMAX + 1, YMAX + 1, -124.38, YMAX + 1],
      ...pairs(holes).reduce((acc: number[][], _, n, all) => { if (n % 4 === 0) acc.push(all.slice(n, n + 4).flat()); return acc; }, []),
    ];
    series.push({ type: "custom", xAxisIndex: ax, yAxisIndex: ax, clip: true, silent: true, data: masks.map((_, k) => [k]),
      renderItem: (_: any, api: any) => ({ type: "polygon", shape: { points: pairs(masks[api.value(0)]).map((c) => api.coord(c)) }, style: { fill: "#ffffff" } }) });
    const lineOf = (d: number[], color: string, width: number, smooth = 0) => ({ type: "line", xAxisIndex: ax, yAxisIndex: ax, data: pairs(d), showSymbol: false, silent: true, clip: true, smooth, lineStyle: { color, width }, itemStyle: { color } });
    p.reds.forEach((d) => series.push(lineOf(d, "#c8442a", 1.4, 0.2)));
    p.blacks.forEach((d) => series.push(lineOf(d, "#111111", 1.3, 0.2)));
    series.push(lineOf(coast, "#000000", p.thin ? 1 : 1.7));
    series.push(lineOf(coastTail, "#000000", p.thin ? 1 : 1.7));
    series.push(lineOf(eez, p.thin ? "#1432b4" : "#2020c8", 2));

    const cbH_ = p.cbTop === 127 ? 166.3 : p.cbTop === 554 ? 166.7 : 166;
    grid.push({ left: p.cbLeft, top: p.cbTop, width: p.cbW, height: cbH_, show: false });
    xAxis.push({ type: "value", gridIndex: bx, min: 0, max: 1, show: false });
    yAxis.push({ type: "value", gridIndex: bx, min: p.cb.min, max: p.cb.max, position: "right", splitLine: { show: false }, axisLine: { show: false },
      axisTick: { show: true, length: 10, lineStyle: { color: INK, width: 1.3 }, customValues: p.cb.ticks },
      axisLabel: { show: true, customValues: p.cb.ticks, margin: 15, fontSize: p.cb.fs, fontFamily: FONT, color: INK, hideOverlap: false, formatter: minusFmt(p.cb.dec) } });
    const gradient = new echarts.graphic.LinearGradient(0, 1, 0, 0, STOPS.map(([t]) => ({ offset: t, color: rampCss(t) })));
    series.push({ type: "custom", xAxisIndex: bx, yAxisIndex: bx, silent: true, data: [[0, p.cb.min, 1, p.cb.max]],
      renderItem: (_: any, api: any) => {
        const a = api.coord([api.value(0), api.value(3)]);
        const b = api.coord([api.value(2), api.value(1)]);
        return { type: "rect", shape: { x: a[0], y: a[1], width: b[0] - a[0], height: b[1] - a[1] }, style: { fill: gradient } };
      } });

    title.push({ text: p.title, left: p.left - 0.5, top: p.titleTop, padding: 0, textStyle: { fontFamily: FONT, fontSize: 26.7, fontWeight: "normal", color: INK } });
    graphic.push({ type: "rect", z: 100, silent: true, shape: { x: p.left, y: p.top, width: W, height: H }, style: { fill: "none", stroke: INK, lineWidth: 1.5 } });
    graphic.push({ type: "rect", z: 100, silent: true, shape: { x: p.cbLeft, y: p.cbTop, width: p.cbW, height: cbH_ }, style: { fill: "none", stroke: INK, lineWidth: 1.3 } });
  });
  notes.forEach((n) => {
    graphic.push({ type: "text", z: 100, silent: true, x: n.right, y: n.y, style: { text: n.black, fill: "#000000", font: `22px "${FONT}"`, textAlign: "right", textVerticalAlign: "middle" } });
    graphic.push({ type: "text", z: 100, silent: true, x: n.right, y: n.y + 27, style: { text: n.red, fill: "#e0101c", font: `22px "${FONT}"`, textAlign: "right", textVerticalAlign: "middle" } });
  });
  return { animation: false, backgroundColor: "#ffffff", tooltip: { show: false }, title, grid, xAxis, yAxis, series, graphic };
}

export default function App() {
  const ref = useRef<HTMLDivElement>(null);
  useEffect(() => {
    document.body.style.margin = "0";
    const chart = echarts.init(ref.current!, undefined, { renderer: "svg" });
    chart.setOption(buildOption() as any);
    return () => chart.dispose();
  }, []);
  return <div ref={ref} style={{ width: 1218, height: 1265 }} />;
}
